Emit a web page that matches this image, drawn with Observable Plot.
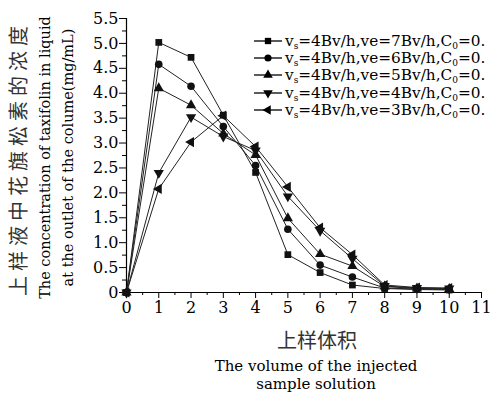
<!DOCTYPE html>
<html><head><meta charset="utf-8">
<script src="https://cdn.jsdelivr.net/npm/d3@7"></script>
<script src="https://cdn.jsdelivr.net/npm/@observablehq/plot@0.6"></script>
<style>
body{margin:0;background:#fff;}
#wrap{position:relative;width:491px;height:394px;overflow:hidden;background:#fff;}
#legend{position:absolute;left:254px;top:32px;font-family:"DejaVu Serif",serif;font-size:15.3px;color:#000;white-space:nowrap;}
#legend .row{height:17.3px;display:flex;align-items:center;}
#legend svg{margin-right:3px;}
#legend sub{font-size:9px;vertical-align:-3px;line-height:0;}
</style></head><body>
<div id="wrap"><div id="legend"></div></div>
<script>
const volumes = [0,1,2,3,4,5,6,7,8,9,10];
const ve7 = [0,5.02,4.72,3.56,2.41,0.76,0.40,0.15,0.08,0.06,0.05];
const ve6 = [0,4.58,4.14,3.33,2.55,1.27,0.55,0.31,0.09,0.07,0.06];
const ve5 = [0,4.10,3.76,3.19,2.76,1.49,0.77,0.53,0.12,0.08,0.07];
const ve4 = [0,2.40,3.52,3.13,2.85,1.93,1.24,0.68,0.13,0.09,0.08];
const ve3 = [0,2.08,3.02,3.55,2.93,2.12,1.30,0.76,0.15,0.10,0.09];
const seriesNames = ["ve=7","ve=6","ve=5","ve=4","ve=3"];
const seriesVe = [7,6,5,4,3];
const seriesValues = [ve7,ve6,ve5,ve4,ve3];
const seriesSymbols = ["square","circle","triangle","triangle","triangle"];
const seriesRotate = [0,0,0,180,-90];
const yTicks = d3.range(0,5.51,0.5);
const yMinor = d3.range(0.25,5.5,0.5);
const xTicks = d3.range(0,12,1);
const xMinor = d3.range(0.5,11,1);

const data = seriesNames.flatMap((s,i)=>volumes.map((v,j)=>({series:s,x:v,y:seriesValues[i][j],symbol:seriesSymbols[i],rot:seriesRotate[i]})));

const serif = "DejaVu Serif, serif";
const cjk = "Noto Sans CJK SC, sans-serif";

const chart = Plot.plot({
  width:491, height:394,
  marginLeft:126, marginRight:10, marginTop:18, marginBottom:102,
  style:{fontFamily:serif, fontSize:"16px", color:"#000", background:"transparent"},
  x:{domain:[0,11]},
  y:{domain:[0,5.5]},
  symbol:{domain:["square","circle","triangle"], range:["square","circle","triangle"]},
  marks:[
    Plot.axisX(xTicks,{tickSize:6,tickPadding:3,fontSize:16,label:null,tickFormat:d=>String(d)}),
    Plot.axisX(xMinor,{tickSize:3,tickFormat:()=>"",label:null}),
    Plot.axisY(yTicks,{tickSize:7,tickPadding:1,fontSize:16,label:null,tickFormat:d=>d===0?"0":d.toFixed(1)}),
    Plot.axisY(yMinor,{tickSize:4,tickFormat:()=>"",label:null}),
    Plot.ruleX([0],{stroke:"#000",strokeWidth:1.2}),
    Plot.ruleY([0],{stroke:"#000",strokeWidth:1.2}),
    Plot.line(data,{x:"x",y:"y",z:"series",stroke:"#222",strokeWidth:1}),
    Plot.dot(data,{x:"x",y:"y",symbol:"symbol",rotate:"rot",fill:"#111",stroke:"none",r:3.8}),
    Plot.text(["上样体积"],{frameAnchor:"bottom",dx:13,dy:49,lineAnchor:"middle",fontFamily:cjk,fontSize:20,fill:"#333"}),
    Plot.text(["The volume of the injected\nsample solution"],{frameAnchor:"bottom",dx:12,dy:82,lineAnchor:"middle",fontFamily:serif,fontSize:15,lineHeight:1.2,fill:"#000"}),
    Plot.text(["上样液中花旗松素的浓度"],{frameAnchor:"left",dx:-107,dy:3,rotate:-90,lineAnchor:"middle",fontFamily:cjk,fontSize:20,fill:"#333",textAnchor:"middle"}),
    Plot.text(["The concentration of taxifolin in liquid\nat the outlet of the colume(mg/mL)"],{frameAnchor:"left",dx:-72,dy:2,rotate:-90,lineAnchor:"middle",fontFamily:serif,fontSize:14.5,lineHeight:1.55,fill:"#000",textAnchor:"middle"})
  ]
});
document.getElementById("wrap").prepend(chart);
d3.select(chart).selectAll("text").filter(function(){return this.textContent==="上样液中花旗松素的浓度";}).attr("letter-spacing","5px");

const legend = d3.select("#legend");
seriesVe.forEach((ve,i)=>{
  const row = legend.append("div").attr("class","row");
  const svg = row.append("svg").attr("width",28).attr("height",12);
  svg.append("line").attr("x1",0).attr("x2",28).attr("y1",6).attr("y2",6).attr("stroke","#000").attr("stroke-width",1.3);
  const sym = {square:d3.symbolSquare,circle:d3.symbolCircle,triangle:d3.symbolTriangle}[seriesSymbols[i]];
  svg.append("path").attr("d",d3.symbol(sym,40)()).attr("transform",`translate(14,6) rotate(${seriesRotate[i]})`).attr("fill","#000");
  row.append("span").html(`v<sub>s</sub>=4Bv/h,ve=${ve}Bv/h,C<sub>0</sub>=0.`);
});
</script>
</body></html>
